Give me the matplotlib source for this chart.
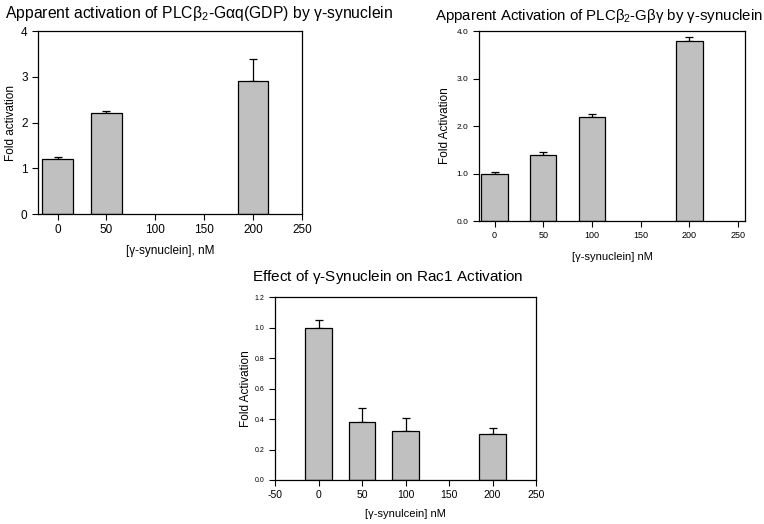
import matplotlib
matplotlib.use('Agg')
import matplotlib.pyplot as plt

plt.rcParams['font.family'] = ['Liberation Sans', 'DejaVu Sans']
plt.rcParams['mathtext.fontset'] = 'custom'
plt.rcParams['mathtext.rm'] = 'Liberation Sans'
plt.rcParams['mathtext.it'] = 'Liberation Sans'
plt.rcParams['axes.unicode_minus'] = False

# panel 1: PLCb2-Gaq(GDP)
conc1 = [0, 50, 200]
fold1 = [1.2, 2.2, 2.9]
err1 = [0.04, 0.05, 0.5]

# panel 2: PLCb2-Gby
conc2 = [0, 50, 100, 200]
fold2 = [1.0, 1.4, 2.2, 3.8]
err2 = [0.03, 0.06, 0.05, 0.07]

# panel 3: Rac1
conc3 = [0, 50, 100, 200]
fold3 = [1.0, 0.38, 0.32, 0.30]
err3 = [0.05, 0.09, 0.09, 0.04]

fig = plt.figure(figsize=(7.64, 5.24), dpi=100)
bar_col = '#c0c0c0'


def panel(ax, x, y, e, w, tick_fs, ytick_fs):
    ax.bar(x, y, width=w, color=bar_col, edgecolor='black', linewidth=0.9, zorder=2)
    ax.errorbar(x, y, yerr=[[0] * len(e), e], fmt='none', ecolor='black',
                elinewidth=0.9, capsize=3, capthick=0.9, zorder=1)
    for s in ax.spines.values():
        s.set_linewidth(0.9)
    ax.tick_params(direction='out', length=4, width=0.8)
    ax.tick_params(axis='x', labelsize=tick_fs)
    ax.tick_params(axis='y', labelsize=ytick_fs)


ax1 = fig.add_axes([0.0497, 0.5916, 0.3455, 0.349])
panel(ax1, conc1, fold1, err1, 31, 8.5, 8.5)
ax1.set_xlim(-20, 250)
ax1.set_ylim(0, 4)
ax1.set_xticks([0, 50, 100, 150, 200, 250])
ax1.set_yticks([0, 1, 2, 3, 4])
ax1.set_xlabel('[\u03b3-synuclein], nM', fontsize=8.5, labelpad=6)
ax1.set_ylabel('Fold activation', fontsize=8.5, labelpad=3)
fig.text(0.006, 0.975, r'Apparent activation of PLC$\beta_2$-G$\alpha$q(GDP) by $\gamma$-synuclein',
         fontsize=11.3, ha='left', va='center')

ax2 = fig.add_axes([0.627, 0.5782, 0.348, 0.3626])
panel(ax2, conc2, fold2, err2, 27, 6.5, 6)
ax2.set_xlim(-16, 257)
ax2.set_ylim(0, 4)
ax2.set_xticks([0, 50, 100, 150, 200, 250])
ax2.set_yticks([0, 1, 2, 3, 4])
ax2.set_yticklabels(['0.0', '1.0', '2.0', '3.0', '4.0'])
ax2.set_xlabel('[\u03b3-synuclein] nM', fontsize=8, labelpad=8)
ax2.set_ylabel('Fold Activation', fontsize=8.5)
fig.text(0.784, 0.969, r'Apparent Activation of PLC$\beta_2$-G$\beta\gamma$ by $\gamma$-synuclein',
         fontsize=10.8, ha='center', va='center')

ax3 = fig.add_axes([0.36, 0.084, 0.3416, 0.349])
panel(ax3, conc3, fold3, err3, 30, 7.5, 5)
ax3.set_xlim(-50, 250)
ax3.set_ylim(0, 1.2)
ax3.set_xticks([-50, 0, 50, 100, 150, 200, 250])
ax3.set_yticks([0, 0.2, 0.4, 0.6, 0.8, 1.0, 1.2])
ax3.set_yticklabels(['0.0', '0.2', '0.4', '0.6', '0.8', '1.0', '1.2'])
ax3.set_xlabel('[\u03b3-synulcein] nM', fontsize=8, labelpad=6)
ax3.set_ylabel('Fold Activation', fontsize=8.5, labelpad=2)
fig.text(0.508, 0.472, r'Effect of $\gamma$-Synuclein on Rac1 Activation',
         fontsize=11, ha='center', va='center')

fig.savefig('out.png', dpi=100)
